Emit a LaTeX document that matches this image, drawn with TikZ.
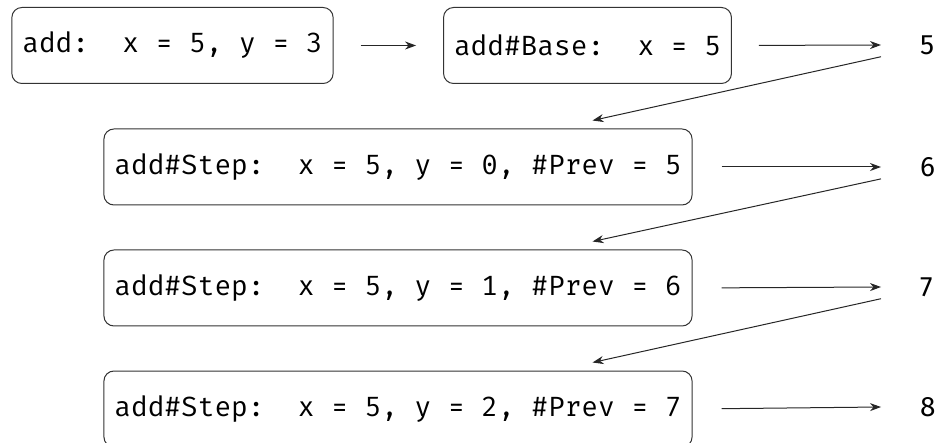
\documentclass[tikz,border=0pt]{standalone}
\usepackage{fontspec}
\setmainfont{Fira Sans}
\setmonofont{Fira Mono}
\usetikzlibrary{arrows.meta,calc}
\tikzset{
  callbox/.style={draw=black!80, line width=1pt, rounded corners=10pt,
    minimum height=76pt, inner xsep=10.5pt, inner ysep=0pt,
    font=\fontsize{27.8}{30}\selectfont\ttfamily},
  num/.style={anchor=west, inner xsep=39pt, inner ysep=2pt,
    font=\fontsize{28}{30}\selectfont},
  flow/.style={draw=black!85, line width=1pt,
    -{Stealth[length=11pt,width=8pt,inset=3.5pt]}},
}
\begin{document}
\begin{tikzpicture}[x=1pt,y=-1pt]
\useasboundingbox (0,0) rectangle (939,443);
\node[callbox] (b1) at (172.5,45.5) {add:~~x~=~5,~y~=~3};
\node[callbox] (b2) at (587.5,45.5) {add\#Base:~~x~=~5};
\node[num] (n1) at (881,45) {5};
\node[callbox] (b3) at (398,167) {add\#Step:~~x~=~5,~y~=~0,~\#Prev~=~5};
\node[num] (n2) at (881,167) {6};
\node[callbox] (b4) at (398,288) {add\#Step:~~x~=~5,~y~=~1,~\#Prev~=~6};
\node[num] (n3) at (881,287) {7};
\node[callbox] (b5) at (398,409) {add\#Step:~~x~=~5,~y~=~2,~\#Prev~=~7};
\node[num] (n4) at (881,407) {8};
\draw[flow, shorten <=27pt, shorten >=27pt] (b1.east) -- (b2.west);
\draw[flow, shorten <=27pt] (b2.east) -- (n1.west);
\draw[flow, shorten <=29pt] (b3.east) -- (n2.west);
\draw[flow, shorten <=29pt] (b4.east) -- (n3.west);
\draw[flow, shorten <=29pt] (b5.east) -- (n4.west);
\draw[flow] (n1.south west) -- ($(b3.north east)+(-100,-8)$);
\draw[flow] (n2.south west) -- ($(b4.north east)+(-100,-8)$);
\draw[flow] (n3.south west) -- ($(b5.north east)+(-100,-8)$);
\end{tikzpicture}
\end{document}
